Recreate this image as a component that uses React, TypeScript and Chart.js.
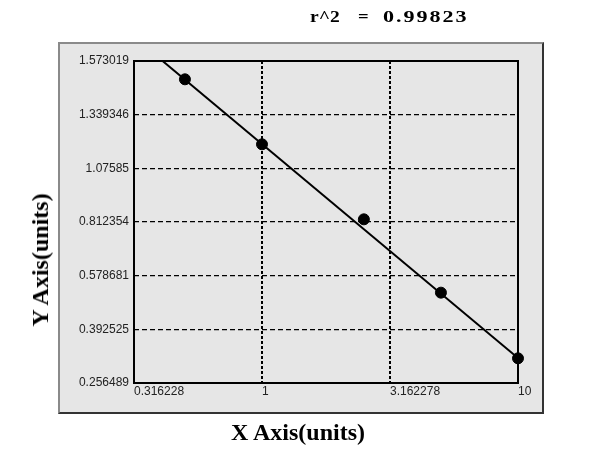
import React, { useEffect, useRef } from "react";
import { Chart, registerables } from "chart.js";

Chart.register(...registerables);

// ---- data ----
const xValues = [0.5, 1, 2.5, 5, 10];
const yValues = [1.4933, 1.1939, 0.8255, 0.5197, 0.3191];
const fitX = [0.409, 10];
const fitY = [1.573019, 0.3199];
const xTicks = [0.316228, 1, 3.162278, 10];
const yTicks = [0.256489, 0.392525, 0.578681, 0.812354, 1.07585, 1.339346, 1.573019];
const rLabel = "r^2";
const rEq = "=";
const rValue = "0.99823";
const xTitle = "X Axis(units)";
const yTitle = "Y Axis(units)";

// The y axis of the original places its (unevenly spaced) tick values at equal
// intervals; map a value to that axis by piecewise-linear interpolation.
function yPos(v: number): number {
  for (let i = 0; i < yTicks.length - 1; i++) {
    const a = yTicks[i];
    const b = yTicks[i + 1];
    if (v <= b || i === yTicks.length - 2) {
      return i + (v - a) / (b - a);
    }
  }
  return 0;
}

const framePlugin = {
  id: "frame",
  beforeDatasetsDraw(chart: any) {
    const { ctx, chartArea } = chart;
    ctx.save();
    ctx.strokeStyle = "#000";
    ctx.lineWidth = 2;
    ctx.setLineDash([]);
    ctx.strokeRect(chartArea.left, chartArea.top, chartArea.right - chartArea.left, chartArea.bottom - chartArea.top);
    ctx.restore();
  },
};

export default function App() {
  const ref = useRef<HTMLCanvasElement>(null);

  useEffect(() => {
    if (!ref.current) return;
    const chart = new Chart(ref.current, {
      type: "scatter",
      data: {
        datasets: [
          {
            label: "fit",
            data: fitX.map((x, i) => ({ x, y: yPos(fitY[i]) })),
            showLine: true,
            borderColor: "#000",
            borderWidth: 2,
            pointRadius: 0,
          },
          {
            label: "points",
            data: xValues.map((x, i) => ({ x, y: yPos(yValues[i]) })),
            showLine: false,
            backgroundColor: "#000",
            borderColor: "#000",
            pointRadius: 5.5,
            clip: false as any,
          },
        ],
      },
      options: {
        responsive: false,
        animation: false,
        layout: { padding: { left: 0, top: 61, right: 82, bottom: 0 } },
        plugins: {
          legend: { display: false },
          tooltip: { enabled: false },
          title: { display: false },
        },
        scales: {
          x: {
            type: "logarithmic",
            bounds: "data",
            min: xTicks[0],
            max: xTicks[xTicks.length - 1],
            afterBuildTicks: (scale: any) => {
              scale.ticks = xTicks.map((v) => ({ value: v }));
            },
            afterFit: (scale: any) => {
              scale.height = 74;
            },
            ticks: {
              autoSkip: false,
              maxRotation: 0,
              align: "start",
              padding: 1,
              color: "#222",
              font: { family: "'Liberation Sans', Arial, sans-serif", size: 12 },
              callback: (_v: any, i: number) => String(xTicks[i]),
            },
            grid: { color: "#000", lineWidth: 2, drawTicks: false },
            border: { display: false, dash: [3, 2] },
          },
          y: {
            type: "linear",
            min: 0,
            max: yTicks.length - 1,
            afterFit: (scale: any) => {
              scale.width = 134;
            },
            ticks: {
              stepSize: 1,
              padding: 5,
              color: "#222",
              font: { family: "'Liberation Sans', Arial, sans-serif", size: 12 },
              callback: (v: any) => String(yTicks[Math.round(Number(v))]),
            },
            grid: { color: "#000", lineWidth: 1.3, drawTicks: false },
            border: { display: false, dash: [5, 3] },
          },
        },
      },
      plugins: [framePlugin],
    } as any);
    return () => chart.destroy();
  }, []);

  const serif = "'Liberation Serif', 'Times New Roman', serif";
  const titleBase: React.CSSProperties = {
    position: "absolute",
    top: 7.5,
    fontFamily: serif,
    fontWeight: "bold",
    fontSize: 17,
    whiteSpace: "pre",
    lineHeight: 1,
    color: "#000",
    transformOrigin: "left top",
  };

  return (
    <div style={{ position: "absolute", left: 0, top: 0, width: 600, height: 457, background: "#fff", overflow: "hidden" }}>
      <div
        style={{
          position: "absolute",
          left: 58,
          top: 42,
          width: 486,
          height: 372,
          boxSizing: "border-box",
          background: "#e6e6e6",
          borderTop: "2px solid #8a8a8a",
          borderLeft: "2px solid #8a8a8a",
          borderRight: "2px solid #333",
          borderBottom: "2px solid #333",
        }}
      />
      <canvas ref={ref} width={600} height={457} style={{ position: "absolute", left: 0, top: 0, width: 600, height: 457 }} />
      <div style={{ ...titleBase, left: 310, transform: "scaleX(1.15)" }}>{rLabel}</div>
      <div style={{ ...titleBase, left: 358, transform: "scaleX(1.1)" }}>{rEq}</div>
      <div style={{ ...titleBase, left: 383, letterSpacing: 1.5, transform: "scaleX(1.3)" }}>{rValue}</div>
      <div
        style={{
          position: "absolute",
          left: 298,
          top: 432,
          transform: "translate(-50%, -50%)",
          fontFamily: serif,
          fontWeight: "bold",
          fontSize: 24,
          whiteSpace: "nowrap",
          lineHeight: 1,
          color: "#000",
        }}
      >
        {xTitle}
      </div>
      <div
        style={{
          position: "absolute",
          left: 40,
          top: 260,
          transform: "translate(-50%, -50%) rotate(-90deg)",
          fontFamily: serif,
          fontWeight: "bold",
          fontSize: 24,
          whiteSpace: "nowrap",
          lineHeight: 1,
          color: "#000",
        }}
      >
        {yTitle}
      </div>
    </div>
  );
}
